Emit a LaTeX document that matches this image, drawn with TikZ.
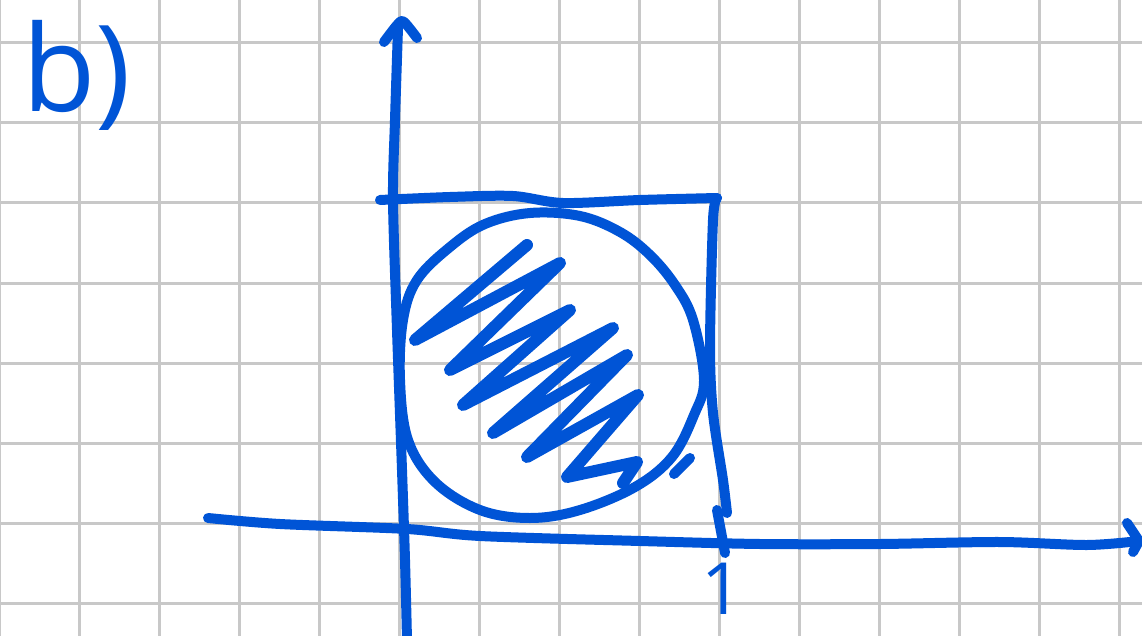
\documentclass[tikz,border=0pt]{standalone}
\usepackage{fontspec}
\setmainfont{Open Sans}
\definecolor{ink}{RGB}{0,84,214}
\definecolor{gridgray}{RGB}{200,200,200}
\tikzset{
  pen/.style={draw=ink, line width=10pt, line cap=round, line join=round},
  thickpen/.style={pen, line width=12pt},
  gridline/.style={draw=gridgray, line width=3pt},
  handtext/.style={text=ink, inner sep=0pt}
}
\begin{document}
\begin{tikzpicture}[x=1pt,y=-1pt]
\fill[white] (0,0) rectangle (1142,636);
\useasboundingbox (0,0) rectangle (1142,636);
\begin{scope}
\clip (0,0) rectangle (1142,636);
\foreach \i in {0,...,14} \draw[gridline] ({-1+80*\i},0) -- ({-1+80*\i},636);
\foreach \j in {0,...,7} \draw[gridline] (0,{43+80*\j}) -- (1142,{43+80*\j});

% y axis
\draw[pen] plot[smooth] coordinates {(407,640) (405,560) (402,470) (397,330) (393,200) (395,120) (398,28)};
\draw[pen] plot[smooth] coordinates {(384,42) (398,24) (404,22) (417,38)};

% x axis
\draw[pen] plot[smooth] coordinates {(208,518) (280,524) (407,529) (480,536) (640,541) (760,544) (880,544) (1000,542) (1087,545) (1139,541)};
\draw[pen] (1127,523) -- (1139,541) -- (1133,552);

% square
\draw[pen] plot[smooth] coordinates {(380,200) (450,197) (513,196) (563,203) (640,200) (717,198)};
\draw[pen] plot[smooth] coordinates {(717,198) (713,220) (710,347) (713,413) (723,480) (727,513)};
\draw[pen] (717,510) -- (725,553);

% circle
\draw[pen] plot[smooth cycle, tension=0.6] coordinates {(417,280) (450,247) (485,224) (530,213) (580,216) (620,232) (650,255) (675,285) (693,320) (704,380) (694,415) (672,457) (635,487) (580,510) (530,518) (480,510) (435,482) (408,440) (400,380) (403,320)};
\draw[pen] (674,474) -- (690,458);

% hatching
\draw[thickpen] plot coordinates {(527,245) (415,340) (560,263) (450,370) (570,310) (463,405) (613,328) (493,433) (627,355) (527,457) (638,395) (567,477) (637,462) (623,483)};
\end{scope}

% labels
\node[handtext, font=\fontsize{120}{120}\selectfont, anchor=base west] (lbl) at (22,112) {b)};
\node[handtext, font=\fontsize{72}{72}\selectfont, anchor=base] (one) at (722,614) {1};
\end{tikzpicture}
\end{document}
